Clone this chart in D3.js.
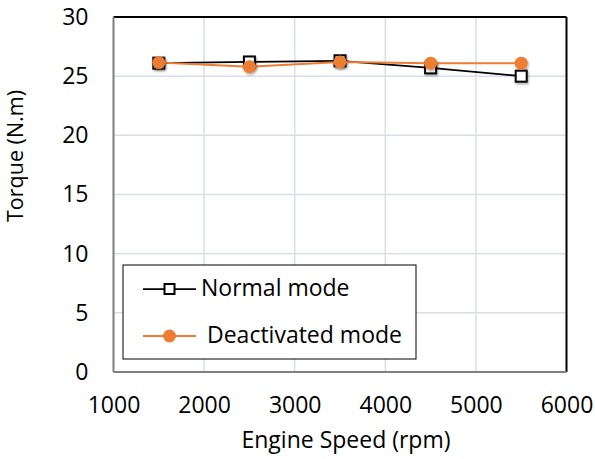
<!DOCTYPE html>
<html><head><meta charset="utf-8">
<script src="https://cdn.jsdelivr.net/npm/d3@7"></script>
<style>body{margin:0;background:#fff}svg{display:block}</style>
</head><body>
<svg id="c" width="595" height="459"></svg>
<script>
const speeds = [1500, 2500, 3500, 4500, 5500];
const normalMode = [26.1, 26.2, 26.3, 25.7, 25.0];
const deactivatedMode = [26.15, 25.8, 26.2, 26.1, 26.1];
const xTicks = [1000, 2000, 3000, 4000, 5000, 6000];
const yTicks = [0, 5, 10, 15, 20, 25, 30];
const seriesNames = ["Normal mode", "Deactivated mode"];

const svg = d3.select("#c");
const font = "'Open Sans', sans-serif";
const FS = 23;
const L = 113.5, R = 566.5, T = 17, B = 372;
const x = d3.scaleLinear().domain([1000, 6000]).range([L, R]);
const y = d3.scaleLinear().domain([0, 30]).range([B, T]);

const defs = svg.append("defs");
const f = defs.append("filter").attr("id", "sh").attr("x", "-50%").attr("y", "-50%").attr("width", "200%").attr("height", "200%");
f.append("feDropShadow").attr("dx", 1).attr("dy", 1.5).attr("stdDeviation", 1).attr("flood-color", "#000").attr("flood-opacity", 0.35);

// gridlines
svg.append("g").selectAll("line.v").data(xTicks.slice(1, -1)).join("line")
  .attr("x1", d => x(d)).attr("x2", d => x(d)).attr("y1", T).attr("y2", B)
  .attr("stroke", "#d9dee7").attr("stroke-width", 1.5);
svg.append("g").selectAll("line.h").data(yTicks.slice(1, -1)).join("line")
  .attr("y1", d => y(d)).attr("y2", d => y(d)).attr("x1", L).attr("x2", R)
  .attr("stroke", "#d9dee7").attr("stroke-width", 1.5);

// frame
svg.append("line").attr("x1", L).attr("x2", R).attr("y1", T).attr("y2", T).attr("stroke", "#000").attr("stroke-width", 2);
svg.append("line").attr("x1", R).attr("x2", R).attr("y1", T).attr("y2", B).attr("stroke", "#000").attr("stroke-width", 2);
svg.append("line").attr("x1", L).attr("x2", R).attr("y1", B).attr("y2", B).attr("stroke", "#7f7f7f").attr("stroke-width", 2);
svg.append("line").attr("x1", L).attr("x2", L).attr("y1", T).attr("y2", B).attr("stroke", "#7f7f7f").attr("stroke-width", 2);

// axes labels via d3 axes
const xAxis = svg.append("g").attr("transform", `translate(0,${B})`)
  .call(d3.axisBottom(x).tickValues(xTicks).tickSize(0).tickPadding(25).tickFormat(d3.format("d")));
const yAxis = svg.append("g").attr("transform", `translate(${L},0)`)
  .call(d3.axisLeft(y).tickValues(yTicks).tickSize(0).tickPadding(25));
[xAxis, yAxis].forEach(g => {
  g.select(".domain").remove();
  g.selectAll("text").attr("font-family", font).attr("font-size", FS).attr("fill", "#000");
});

svg.append("text").attr("x", 346).attr("y", 448).attr("text-anchor", "middle")
  .attr("font-family", font).attr("font-size", FS).text("Engine Speed (rpm)");
svg.append("text").attr("transform", "translate(23,156) rotate(-90)").attr("text-anchor", "middle")
  .attr("font-family", font).attr("font-size", 21.5).text("Torque (N.m)");

const line = d3.line().x((d, i) => x(speeds[i])).y(d => y(d));

// normal series
svg.append("path").datum(normalMode).attr("d", line).attr("fill", "none").attr("stroke", "#000").attr("stroke-width", 1.75);
svg.append("g").selectAll("rect").data(normalMode).join("rect")
  .attr("x", (d, i) => x(speeds[i]) - 5.5).attr("y", d => y(d) - 5.5)
  .attr("width", 11).attr("height", 11).attr("fill", "#fff").attr("stroke", "#000").attr("stroke-width", 2)
  .attr("filter", "url(#sh)");

// deactivated series
svg.append("path").datum(deactivatedMode).attr("d", line).attr("fill", "none").attr("stroke", "#ed7d31").attr("stroke-width", 2);
svg.append("g").selectAll("circle").data(deactivatedMode).join("circle")
  .attr("cx", (d, i) => x(speeds[i])).attr("cy", d => y(d)).attr("r", 6.5)
  .attr("fill", "#ed7d31").attr("filter", "url(#sh)");

// legend
const lg = svg.append("g");
lg.append("rect").attr("x", 123).attr("y", 265).attr("width", 293).attr("height", 94)
  .attr("fill", "#fff").attr("stroke", "#000").attr("stroke-width", 1);
lg.append("line").attr("x1", 143).attr("x2", 196).attr("y1", 289).attr("y2", 289).attr("stroke", "#000").attr("stroke-width", 1.75);
lg.append("rect").attr("x", 164.5).attr("y", 284).attr("width", 10).attr("height", 10).attr("fill", "#fff").attr("stroke", "#000").attr("stroke-width", 2);
lg.append("text").attr("x", 201).attr("y", 296).attr("font-family", font).attr("font-size", FS).text(seriesNames[0]);
lg.append("line").attr("x1", 143).attr("x2", 196).attr("y1", 336).attr("y2", 336).attr("stroke", "#ed7d31").attr("stroke-width", 2);
lg.append("circle").attr("cx", 169.5).attr("cy", 336).attr("r", 6.5).attr("fill", "#ed7d31");
lg.append("text").attr("x", 207).attr("y", 343).attr("font-family", font).attr("font-size", FS).text(seriesNames[1]);
</script>
</body></html>
